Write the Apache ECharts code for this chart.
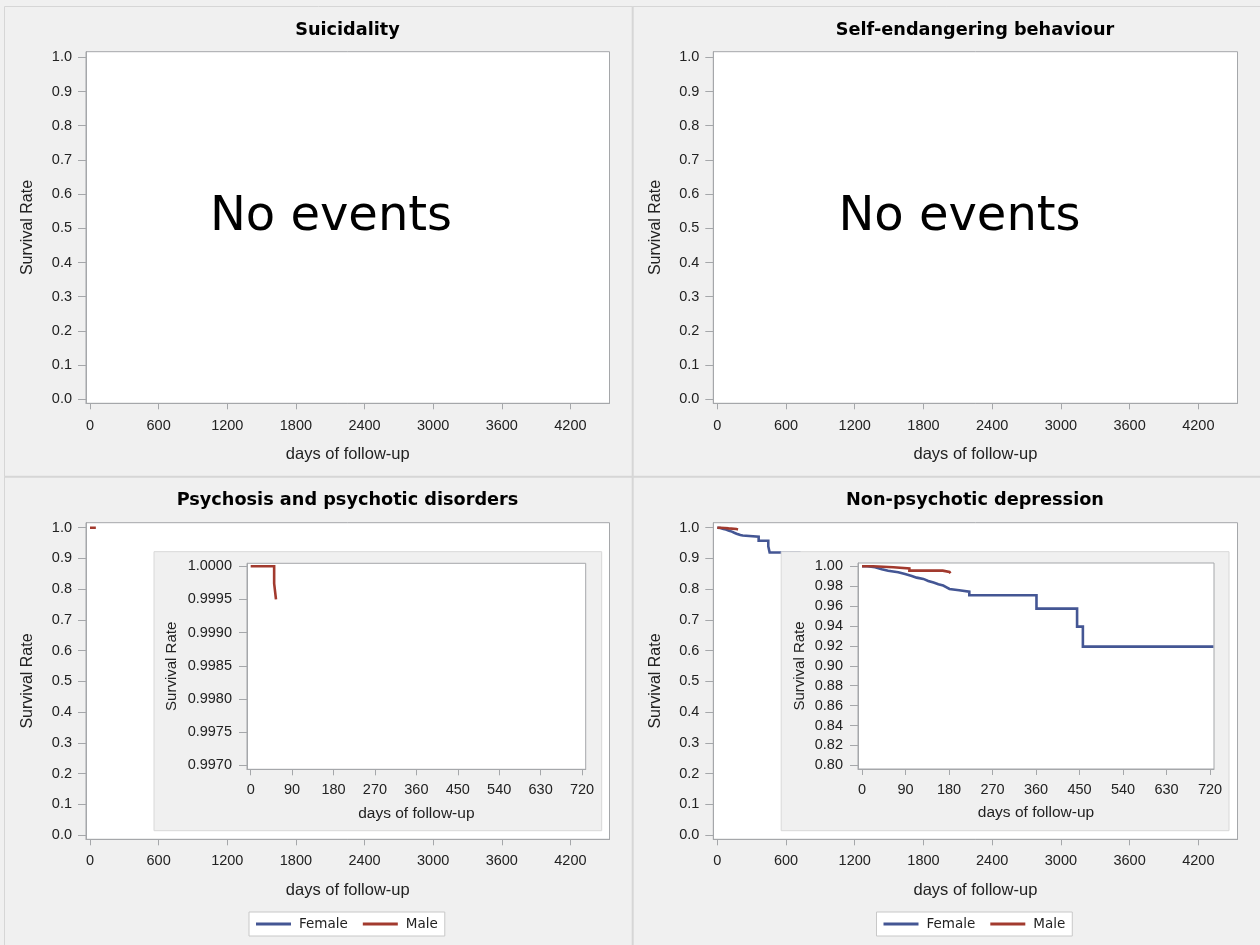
<!DOCTYPE html>
<html><head><meta charset="utf-8">
<script src="https://cdn.jsdelivr.net/npm/echarts@6/dist/echarts.min.js"></script>
<style>html,body{margin:0;padding:0;background:#f0f0f0}#c{width:1260px;height:945px}</style>
</head><body><div id="c"></div><script>
// ---------- data ----------
const panelTitles = ['Suicidality', 'Self-endangering behaviour', 'Psychosis and psychotic disorders', 'Non-psychotic depression'];
const noEventsText = 'No events';
const seriesNames = ['Female', 'Male'];
const mainXTicks = [0, 600, 1200, 1800, 2400, 3000, 3600, 4200];
const mainYTicks = [0, 0.1, 0.2, 0.3, 0.4, 0.5, 0.6, 0.7, 0.8, 0.9, 1.0];
const insetXTicks = [0, 90, 180, 270, 360, 450, 540, 630, 720];
const psyInsetYTicks = [0.997, 0.9975, 0.998, 0.9985, 0.999, 0.9995, 1.0];
const depInsetYTicks = [0.80, 0.82, 0.84, 0.86, 0.88, 0.90, 0.92, 0.94, 0.96, 0.98, 1.00];
const xName = 'days of follow-up';
const yName = 'Survival Rate';

// Kaplan-Meier estimates [day, survival]
const psyFemale = [];
const psyMale = [[0, 1.0], [51, 0.99974], [55, 0.9995]];
const depFemale = [[0, 1.0], [11, 0.999], [27, 0.997], [41, 0.9956], [54, 0.994], [75, 0.9923], [89, 0.9903],
  [103, 0.9886], [113, 0.9873], [127, 0.9853], [137, 0.9836], [148, 0.9819], [158, 0.9806], [168, 0.9789],
  [175, 0.9772], [181, 0.976], [201, 0.9745], [222, 0.9709], [361, 0.9575], [445, 0.9394], [457, 0.9193], [727, 0.9193]];
const depMale = [[0, 1.0], [23, 0.999], [65, 0.9977], [98, 0.9956], [167, 0.9943], [181, 0.993], [183, 0.993]];

// ---------- styles ----------
const COLORS = { Female: '#445694', Male: '#A23A2E' };
const AX = '#a5a7aa';
const TXT = '#222';
const tickFont = "'Liberation Sans', Arial, sans-serif";
const titleFont = "'DejaVu Sans', Verdana, sans-serif";

const chart = echarts.init(document.getElementById('c'), null, { renderer: 'canvas' });

// grid rects: [left, top, width, height]
const grids = [
  [86, 51.7, 523.5, 351.6],
  [713.3, 51.7, 524.2, 351.6],
  [86, 522.7, 523.5, 316.6],
  [713.3, 522.7, 524.2, 316.6],
  [247, 563.3, 338.7, 206],
  [858, 563, 356, 206]
];
const isInset = i => i >= 4;

const gridOpt = grids.map((g, i) => ({
  left: g[0], top: g[1], width: g[2], height: g[3],
  show: true, backgroundColor: '#ffffff', borderColor: AX, borderWidth: 1,
  containLabel: false, outerBoundsMode: 'none',
  zlevel: isInset(i) ? 1 : 0, z: isInset(i) ? 1 : 0
}));

function xAxisOpt(gi, min, max, ticks, labelMargin, nameGap, nameSize) {
  return {
    type: 'value', gridIndex: gi, min: min, max: max,
    zlevel: isInset(gi) ? 1 : 0, z: isInset(gi) ? 2 : 0,
    name: xName, nameLocation: 'middle', nameGap: nameGap,
    nameTextStyle: { fontFamily: tickFont, fontSize: nameSize, color: TXT },
    axisLine: { show: true, onZero: false, lineStyle: { color: AX, width: 1 } },
    axisTick: { show: true, length: 6, customValues: ticks, lineStyle: { color: AX } },
    axisLabel: { show: true, customValues: ticks, margin: labelMargin, fontFamily: tickFont, fontSize: 14.5, color: TXT,
      formatter: v => String(Math.round(v)) },
    splitLine: { show: false }
  };
}
function yAxisOpt(gi, min, max, ticks, digits, labelMargin, nameGap, nameSize) {
  return {
    type: 'value', gridIndex: gi, min: min, max: max,
    zlevel: isInset(gi) ? 1 : 0, z: isInset(gi) ? 2 : 0,
    name: yName, nameLocation: 'middle', nameGap: nameGap,
    nameTextStyle: { fontFamily: tickFont, fontSize: nameSize, color: TXT },
    axisLine: { show: true, onZero: false, lineStyle: { color: AX, width: 1 } },
    axisTick: { show: true, length: 8, customValues: ticks, lineStyle: { color: AX } },
    axisLabel: { show: true, customValues: ticks, margin: labelMargin, fontFamily: tickFont, fontSize: 14.5, color: TXT,
      formatter: v => Number(v).toFixed(digits) },
    splitLine: { show: false }
  };
}

const xAxes = [
  xAxisOpt(0, -35, 4542, mainXTicks, 15, 43, 16.5),
  xAxisOpt(1, -35, 4542, mainXTicks, 15, 43, 16.5),
  xAxisOpt(2, -35, 4542, mainXTicks, 14, 43, 16.5),
  xAxisOpt(3, -35, 4542, mainXTicks, 14, 43, 16.5),
  xAxisOpt(4, -8, 728, insetXTicks, 13, 36, 15.5),
  xAxisOpt(5, -8.3, 728.3, insetXTicks, 13, 36, 15.5)
];
const yAxes = [
  yAxisOpt(0, -0.0117, 1.0164, mainYTicks, 1, 14, 50, 16),
  yAxisOpt(1, -0.0117, 1.0164, mainYTicks, 1, 14, 50, 16),
  yAxisOpt(2, -0.014, 1.0163, mainYTicks, 1, 14, 50, 16),
  yAxisOpt(3, -0.014, 1.0163, mainYTicks, 1, 14, 50, 16),
  yAxisOpt(4, 0.99694, 1.000045, psyInsetYTicks, 4, 15, 68, 15),
  yAxisOpt(5, 0.7963, 1.0033, depInsetYTicks, 2, 15, 51, 15)
];

function km(name, data, gi) {
  return {
    type: 'line', name: name, data: data, xAxisIndex: gi, yAxisIndex: gi,
    step: 'end', showSymbol: false, symbol: 'none', clip: true, animation: false,
    zlevel: isInset(gi) ? 1 : 0, z: isInset(gi) ? 3 : 2,
    lineStyle: { color: COLORS[name], width: 2.6, join: 'miter', cap: 'butt' },
    itemStyle: { color: COLORS[name] }
  };
}
const series = [
  km('Female', psyFemale, 2), km('Male', psyMale, 2),
  km('Female', depFemale, 3), km('Male', depMale, 3),
  km('Female', psyFemale, 4), km('Male', psyMale, 4),
  km('Female', depFemale, 5), km('Male', depMale, 5)
];

function legendOpt(left) {
  return {
    left: left, top: 912, orient: 'horizontal', data: seriesNames, selectedMode: false,
    icon: 'rect', itemWidth: 35, itemHeight: 3, itemGap: 15, padding: [5, 7],
    backgroundColor: '#ffffff', borderColor: '#c8c8c8', borderWidth: 1, borderRadius: 0,
    textStyle: { fontFamily: titleFont, fontSize: 13.5, color: TXT, padding: [0, 0, 0, 3] }
  };
}

function txt(x, y, text, size, weight) {
  return { type: 'text', x: x, y: y, silent: true, z: 100,
    style: { text: text, fontFamily: titleFont, fontSize: size, fontWeight: weight, fill: '#000',
      align: 'center', verticalAlign: 'middle', textAlign: 'center', textVerticalAlign: 'middle' } };
}
const graphics = [
  { type: 'rect', shape: { x: 4.5, y: 6.5, width: 1260, height: 945 }, style: { fill: 'none', stroke: '#d6d6d6', lineWidth: 1 }, silent: true, z: -10 },
  { type: 'rect', shape: { x: 631.7, y: 6.5, width: 2, height: 940 }, style: { fill: '#d6d6d6' }, silent: true, z: -10 },
  { type: 'rect', shape: { x: 4.5, y: 475.7, width: 1256, height: 2 }, style: { fill: '#d6d6d6' }, silent: true, z: -10 },
  { type: 'rect', shape: { x: 154, y: 551.7, width: 447.7, height: 279 }, style: { fill: '#f0f0f0', stroke: '#d8d8d8', lineWidth: 1 }, silent: true, zlevel: 1, z: 0 },
  { type: 'rect', shape: { x: 781.2, y: 551.7, width: 447.8, height: 279 }, style: { fill: '#f0f0f0', stroke: '#d8d8d8', lineWidth: 1 }, silent: true, zlevel: 1, z: 0 },
  txt(347.5, 30.5, panelTitles[0], 17.7, 'bold'),
  txt(975, 30.5, panelTitles[1], 17.7, 'bold'),
  txt(347.5, 500.5, panelTitles[2], 17.7, 'bold'),
  txt(975, 500.5, panelTitles[3], 17.7, 'bold'),
  txt(331, 218, noEventsText, 48, 'normal'),
  txt(959.5, 218, noEventsText, 48, 'normal')
];

chart.setOption({
  animation: false,
  backgroundColor: '#f0f0f0',
  grid: gridOpt,
  xAxis: xAxes,
  yAxis: yAxes,
  series: series,
  legend: [legendOpt(249), legendOpt(876.5)],
  graphic: { elements: graphics }
});
</script></body></html>
